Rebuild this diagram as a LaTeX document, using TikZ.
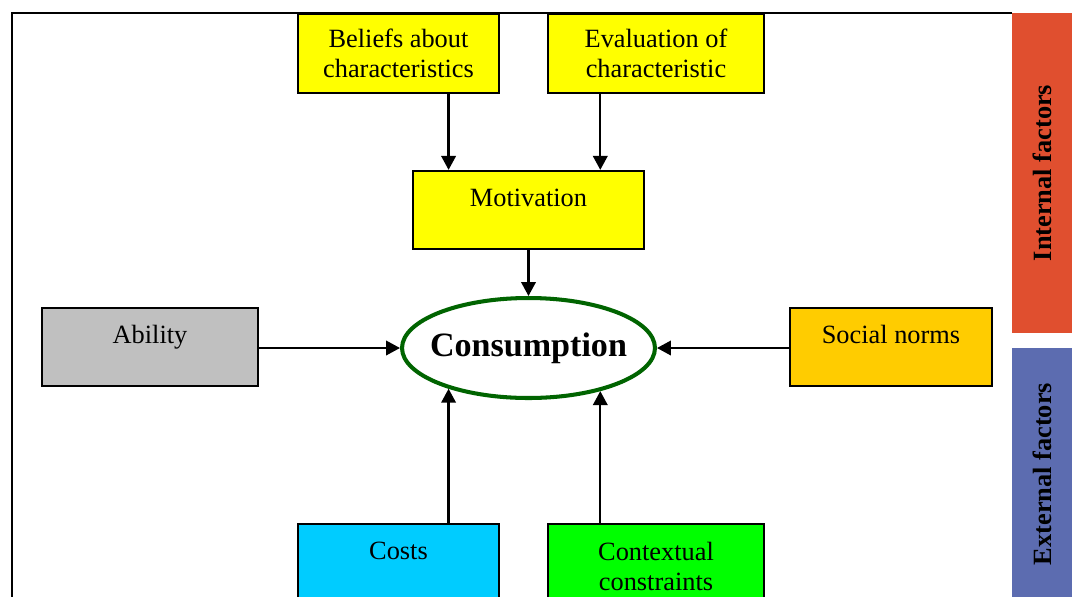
\documentclass[tikz,border=0pt]{standalone}
\usepackage{fontspec}
\setmainfont{Liberation Serif}
\usetikzlibrary{arrows.meta,shapes.geometric}
\definecolor{beliefyellow}{HTML}{FFFF00}
\definecolor{abilitygray}{HTML}{C0C0C0}
\definecolor{normorange}{HTML}{FFCC00}
\definecolor{costcyan}{HTML}{00CCFF}
\definecolor{contextgreen}{HTML}{00FF00}
\definecolor{consgreen}{HTML}{006400}
\definecolor{intred}{HTML}{E04F2F}
\definecolor{extblue}{HTML}{5C6CB0}
\tikzset{
box/.style = {draw, line width=1pt, inner sep=0pt, align=center,
              minimum height=1.57cm, font=\fontsize{15}{17.1}\selectfont},
oneline/.style = {text height=10.5pt, text depth=15pt},
arr/.style = {line width=1.3pt, -{Triangle[length=0.28cm,width=0.29cm]}},
bar/.style = {rotate=90, inner sep=0pt, minimum height=1.2cm,
              font=\bfseries\fontsize{15}{17.1}\selectfont}
}
\begin{document}
\begin{tikzpicture}[x=0.02cm,y=-0.02cm]
  \useasboundingbox (0,0) rectangle (1072,596);
  % frame
  \draw[line width=1.1pt] (12,620) -- (12,13) -- (1012,13);

  % internal factors
  \node[box, fill=beliefyellow, minimum width=4.02cm] (beliefs) at (398.5,53.5)
       {Beliefs about\\characteristics};
  \node[box, fill=beliefyellow, minimum width=4.32cm] (evaluation) at (656,53.5)
       {Evaluation of\\characteristic};
  \node[box, oneline, fill=beliefyellow, minimum width=4.62cm] (motiv) at (528.5,210) {Motivation};
  \node[box, oneline, fill=abilitygray, minimum width=4.32cm] (ability) at (150,347) {Ability};

  % external factors
  \node[box, oneline, fill=normorange, minimum width=4.04cm] (social) at (891,347) {Social norms};
  \node[box, oneline, fill=costcyan, minimum width=4.02cm] (costs) at (398.5,563) {Costs};
  \node[box, fill=contextgreen, minimum width=4.32cm, minimum height=1.68cm] (context) at (656,566)
       {Contextual\\constraints};

  \node[ellipse, draw=consgreen, line width=2.3pt, fill=white, minimum width=5.06cm,
        minimum height=2cm, inner xsep=-0.25cm, inner ysep=0pt,
        font=\bfseries\fontsize{19.4}{22}\selectfont] (cons) at (528.5,348) {Consumption};

  \draw[arr] (beliefs.south -| cons.207.2) -- (motiv.north -| cons.207.2);
  \draw[arr] (evaluation.south -| cons.329.4) -- (motiv.north -| cons.329.4);
  \draw[arr] (motiv) -- (cons);
  \draw[arr] (ability.east |- cons.west) -- (cons.west);
  \draw[arr] (social.west |- cons.east) -- (cons.east);
  \draw[arr] (costs.north -| cons.207.2) -- (cons.207.2);
  \draw[arr] (context.north -| cons.329.4) -- (cons.329.4);

  % side bars
  \node[bar, fill=intred, minimum width=6.4cm] (intbar) at (1042,173) {Internal factors};
  \node[bar, fill=extblue, minimum width=5.04cm] (extbar) at (1042,474) {External factors};
\end{tikzpicture}
\end{document}
